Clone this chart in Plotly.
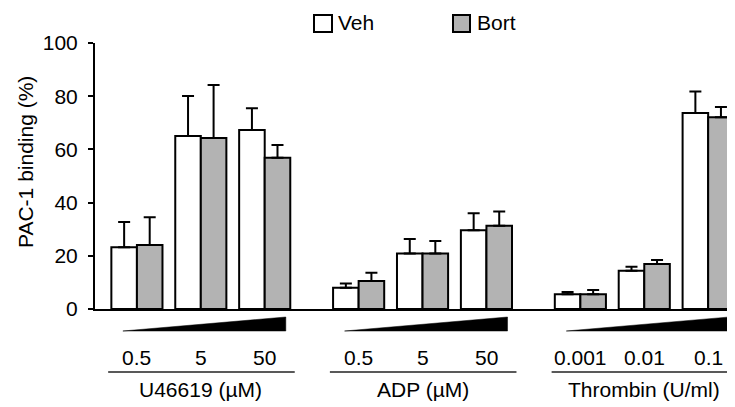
import plotly.graph_objects as go

# ---- data ----
groups = ["U46619 (µM)", "ADP (µM)", "Thrombin (U/ml)"]
doses = [["0.5", "5", "50"], ["0.5", "5", "50"], ["0.001", "0.01", "0.1"]]
veh_mean = [23.2, 65.0, 67.3, 8.0, 20.9, 29.6, 5.5, 14.4, 73.7]
veh_top = [32.7, 80.1, 75.5, 9.6, 26.3, 36.0, 6.4, 15.9, 81.8]
bort_mean = [24.1, 64.3, 56.9, 10.5, 20.9, 31.3, 5.5, 16.9, 72.1]
bort_top = [34.5, 84.2, 61.7, 13.6, 25.6, 36.7, 7.1, 18.4, 75.9]
y_ticks = [0, 20, 40, 60, 80, 100]

FONT = "Liberation Sans, Arial, sans-serif"
FS = 21
GROUP_STEP = 3.47
BAR_W = 0.4

pos = []
for g in range(len(groups)):
    for d in range(len(doses[g])):
        pos.append(g * GROUP_STEP + d)

veh_err = [t - m for t, m in zip(veh_top, veh_mean)]
bort_err = [t - m for t, m in zip(bort_top, bort_mean)]

fig = go.Figure()
fig.add_trace(go.Bar(
    x=pos, y=veh_mean, name="Veh", width=BAR_W, offset=-BAR_W,
    marker=dict(color="white", line=dict(color="black", width=2)),
    error_y=dict(type="data", symmetric=False, array=veh_err,
                 arrayminus=[0] * len(pos), color="black", thickness=2, width=6),
    showlegend=False,
))
fig.add_trace(go.Bar(
    x=pos, y=bort_mean, name="Bort", width=BAR_W, offset=0,
    marker=dict(color="#b3b3b3", line=dict(color="black", width=2)),
    error_y=dict(type="data", symmetric=False, array=bort_err,
                 arrayminus=[0] * len(pos), color="black", thickness=2, width=6),
    showlegend=False,
))

shapes = []
annotations = []

# screen pixel -> paper y (plot area 266 px tall; its bottom sits at screen y=309)
def py(pix):
    return (309 - pix) / 266.0

# screen pixel -> paper x (plot area 640 px wide; its left at screen x=95)
def px(pix):
    return (pix - 95) / 640.0

for g, gname in enumerate(groups):
    base = g * GROUP_STEP
    # ramp triangle
    x0 = base - 0.22
    x1 = base + 2.33
    shapes.append(dict(
        type="path", xref="x", yref="paper",
        path=f"M {x0},{py(331)} L {x1},{py(317)} L {x1},{py(331)} Z",
        fillcolor="black", line=dict(color="black", width=0.5),
    ))
    # dose labels
    for d, lab in enumerate(doses[g]):
        annotations.append(dict(
            x=base + d, y=py(357.5), xref="x", yref="paper", text=lab,
            showarrow=False, xanchor="center", yanchor="middle",
            font=dict(family=FONT, size=FS, color="black"),
        ))
    # group line
    shapes.append(dict(
        type="line", xref="x", yref="paper",
        x0=base + 1 - 1.45, x1=base + 1 + 1.47, y0=py(372), y1=py(372),
        line=dict(color="#222222", width=1.5),
    ))
    annotations.append(dict(
        x=base + 1, y=py(389), xref="x", yref="paper", text=gname,
        showarrow=False, xanchor="center", yanchor="middle",
        font=dict(family=FONT, size=FS, color="black"),
    ))

# legend (manual)
shapes.append(dict(type="rect", xref="paper", yref="paper",
                   x0=px(314), x1=px(332), y0=py(32), y1=py(15),
                   fillcolor="white", line=dict(color="black", width=2)))
shapes.append(dict(type="rect", xref="paper", yref="paper",
                   x0=px(453), x1=px(470), y0=py(32), y1=py(15),
                   fillcolor="#b3b3b3", line=dict(color="black", width=2)))
annotations.append(dict(x=px(336), y=py(23), xref="paper", yref="paper",
                        text="Veh", showarrow=False, xanchor="left", yanchor="middle",
                        font=dict(family=FONT, size=FS, color="black")))
annotations.append(dict(x=px(475), y=py(23), xref="paper", yref="paper",
                        text="Bort", showarrow=False, xanchor="left", yanchor="middle",
                        font=dict(family=FONT, size=FS, color="black")))

# y title
annotations.append(dict(x=px(25), y=py(162), xref="paper", yref="paper",
                        text="PAC-1 binding (%)", textangle=-90, showarrow=False,
                        xanchor="center", yanchor="middle",
                        font=dict(family=FONT, size=FS, color="black")))

# page body has an 8px margin, so the figure is 8px smaller and margins shifted
fig.update_layout(
    width=727, height=399,
    margin=dict(l=87, r=0, t=35, b=98, pad=0),
    paper_bgcolor="white", plot_bgcolor="white",
    barmode="overlay",
    shapes=shapes, annotations=annotations,
    font=dict(family=FONT, size=FS, color="black"),
    xaxis=dict(range=[-0.656, 9.36], showgrid=False, zeroline=False,
               showline=True, linecolor="black", linewidth=2,
               showticklabels=False, ticks=""),
    yaxis=dict(range=[0, 100], tickvals=y_ticks, showgrid=False, zeroline=False,
               showline=True, linecolor="black", linewidth=2,
               ticks="outside", ticklen=5, tickwidth=2, tickcolor="black",
               tickfont=dict(family=FONT, size=FS, color="black"),
               ticklabelstandoff=6),
)

fig.write_html("out.html")
